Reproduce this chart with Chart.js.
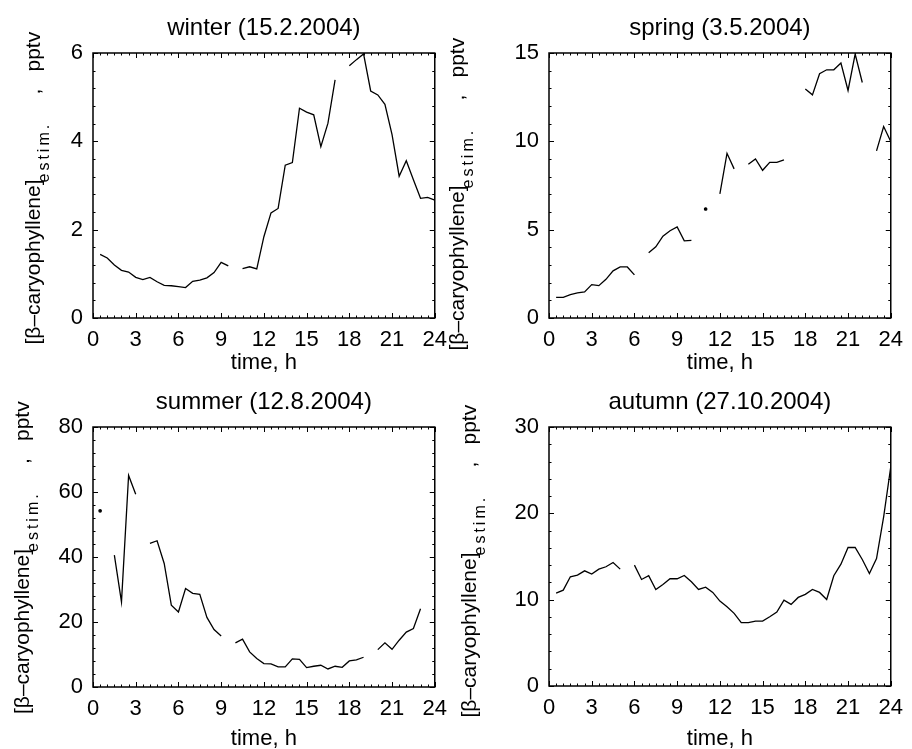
<!DOCTYPE html>
<html>
<head>
<meta charset="utf-8">
<script src="https://cdn.jsdelivr.net/npm/chart.js@4.4.0/dist/chart.umd.min.js"></script>
<style>
  html, body { margin: 0; padding: 0; background: #fff; }
  #wrap { position: relative; width: 912px; height: 749px; overflow: hidden; }
  .panel { position: absolute; }
</style>
</head>
<body>
<div id="wrap">
  <div class="panel" style="left:0px;top:0px"><canvas id="cWinter" width="456" height="374"></canvas></div>
  <div class="panel" style="left:436px;top:0px"><canvas id="cSpring" width="476" height="374"></canvas></div>
  <div class="panel" style="left:0px;top:374px"><canvas id="cSummer" width="456" height="375"></canvas></div>
  <div class="panel" style="left:436px;top:374px"><canvas id="cAutumn" width="476" height="375"></canvas></div>
</div>
<script>
// time of day, h (half-hour samples)
const hours = [0.5, 1, 1.5, 2, 2.5, 3, 3.5, 4, 4.5, 5, 5.5, 6,
               6.5, 7, 7.5, 8, 8.5, 9, 9.5, 10, 10.5, 11, 11.5, 12,
               12.5, 13, 13.5, 14, 14.5, 15, 15.5, 16, 16.5, 17, 17.5, 18,
               18.5, 19, 19.5, 20, 20.5, 21, 21.5, 22, 22.5, 23, 23.5, 24];

// estimated beta-caryophyllene, pptv (null = no data)
const winter = [1.44, 1.36, 1.20, 1.08, 1.04, 0.92, 0.87, 0.92, 0.82, 0.74, 0.73, 0.71,
                0.69, 0.83, 0.86, 0.91, 1.03, 1.26, 1.18, null, 1.12, 1.16, 1.11, 1.84,
                2.38, 2.48, 3.46, 3.52, 4.75, 4.66, 4.60, 3.88, 4.41, 5.39, null, 5.71,
                5.85, 5.98, 5.14, 5.05, 4.84, 4.15, 3.21, 3.56, 3.13, 2.71, 2.73, 2.67];

const spring = [1.17, 1.17, 1.32, 1.42, 1.48, 1.89, 1.83, 2.19, 2.67, 2.89, 2.89, 2.44,
                null, 3.69, 4.03, 4.63, 4.94, 5.16, 4.37, 4.39, null, 6.17, null, 7.02,
                9.32, 8.44, null, 8.70, 9.00, 8.36, 8.81, 8.81, 8.95, null, null, 12.96,
                12.63, 13.83, 14.05, 14.05, 14.43, 12.88, 14.94, 13.33, null, 9.46, 10.84, 9.99];

const summer = [54.2, null, 40.6, 26.2, 65.1, 59.3, null, 44.2, 45.0, 38.0, 25.2, 23.1,
                30.3, 28.8, 28.5, 21.4, 17.7, 15.7, null, 13.6, 14.7, 10.8, 8.74, 7.2,
                7.1, 6.17, 6.17, 8.64, 8.53, 5.96, 6.38, 6.68, 5.55, 6.38, 6.07, 8.02,
                8.33, 9.15, null, 11.5, 13.6, 11.6, 14.4, 16.9, 18.0, 24.1, null, null];

const autumn = [10.76, 11.1, 12.65, 12.84, 13.34, 12.96, 13.54, 13.81, 14.31, 13.54, null, 14.0,
                12.34, 12.77, 11.18, 11.76, 12.42, 12.42, 12.80, 12.07, 11.18, 11.45, 10.84, 9.83,
                9.18, 8.41, 7.33, 7.33, 7.52, 7.52, 8.02, 8.56, 9.95, 9.45, 10.26, 10.61,
                11.18, 10.84, 10.03, 12.77, 14.11, 16.04, 16.04, 14.65, 13.04, 14.77, 19.59, 25.38];

const xTicks = [0, 3, 6, 9, 12, 15, 18, 21, 24];

const FONT = '"Liberation Sans", Arial, Helvetica, sans-serif';

// box, inward ticks on all sides, titles and axis labels
const framePlugin = {
  id: 'frame',
  afterDraw(chart, args, o) {
    const { ctx, chartArea: a, scales: { x, y } } = chart;
    ctx.save();
    ctx.strokeStyle = '#000';
    ctx.lineWidth = 1;
    ctx.beginPath();
    for (let v = 0; v <= 24.001; v += 0.5) {
      const px = Math.round(x.getPixelForValue(v)) + 0.5;
      const len = xTicks.includes(v) ? 5 : 2.5;
      ctx.moveTo(px, a.bottom); ctx.lineTo(px, a.bottom - len);
      ctx.moveTo(px, a.top); ctx.lineTo(px, a.top + len);
    }
    for (let v = 0; v <= o.yMax + 1e-6; v += o.yMinor) {
      const py = Math.round(y.getPixelForValue(v)) + 0.5;
      const r = v / o.yStep;
      const len = Math.abs(r - Math.round(r)) < 1e-6 ? 5 : 2.5;
      ctx.moveTo(a.left, py); ctx.lineTo(a.left + len, py);
      ctx.moveTo(a.right, py); ctx.lineTo(a.right - len, py);
    }
    ctx.stroke();
    ctx.lineWidth = 1.5;
    ctx.strokeRect(a.left, a.top, a.right - a.left, a.bottom - a.top);

    ctx.fillStyle = '#000';
    const cx = (a.left + a.right) / 2;
    // title
    ctx.font = '24px ' + FONT;
    ctx.textAlign = 'center';
    ctx.textBaseline = 'alphabetic';
    ctx.fillText(o.title, cx, o.titleY);
    // x label
    ctx.font = '22px ' + FONT;
    ctx.textBaseline = 'middle';
    ctx.fillText('time, h', cx, o.xlabelY);

    // y label with subscript, rotated
    const mainF = '21px ' + FONT, subF = '16px ' + FONT;
    ctx.translate(o.ylabelX, (a.top + a.bottom) / 2 + o.ylabelShift);
    ctx.rotate(-Math.PI / 2);
    ctx.textAlign = 'left';
    ctx.textBaseline = 'alphabetic';
    const t0 = -157;
    ctx.font = mainF;
    ctx.fillText('[\u03B2\u2013caryophyllene]', t0, 0);
    ctx.font = subF;
    ctx.letterSpacing = '3px';
    ctx.fillText('estim.', t0 + 162, 9);
    ctx.letterSpacing = '0px';
    ctx.font = mainF;
    ctx.fillText(',', t0 + 250, 0);
    ctx.fillText('pptv', t0 + 273, 0);
    ctx.restore();
  }
};

function isolated(ctx) {
  const d = ctx.dataset.data, i = ctx.dataIndex;
  if (d[i].y === null) return 0;
  const prev = i > 0 ? d[i - 1].y : null;
  const next = i < d.length - 1 ? d[i + 1].y : null;
  return (prev === null && next === null) ? 1.2 : 0;
}

function makeChart(id, values, o) {
  const ctx = document.getElementById(id).getContext('2d');
  return new Chart(ctx, {
    type: 'line',
    data: {
      datasets: [{
        data: hours.map((h, i) => ({ x: h, y: values[i] })),
        borderColor: '#000',
        backgroundColor: '#000',
        borderWidth: 1.3,
        pointRadius: isolated,
        pointHoverRadius: 0,
        spanGaps: false,
        tension: 0,
      }],
    },
    options: {
      responsive: false,
      animation: false,
      events: [],
      layout: { autoPadding: false, padding: { left: 0, top: 53, right: o.padRight, bottom: 0 } },
      plugins: { legend: { display: false }, tooltip: { enabled: false }, frame: o },
      scales: {
        x: {
          type: 'linear', min: 0, max: 24,
          afterFit(s) { s.height = o.axisH; },
          grid: { display: false, drawTicks: false },
          border: { display: false },
          ticks: { stepSize: 3, maxRotation: 0, autoSkip: false, padding: 9, color: '#000',
                   font: { family: FONT, size: 22 } },
        },
        y: {
          min: 0, max: o.yMax,
          afterFit(s) { s.width = o.axisW; },
          grid: { display: false, drawTicks: false },
          border: { display: false },
          ticks: { stepSize: o.yStep, padding: 10, color: '#000',
                   font: { family: FONT, size: 22 } },
        },
      },
    },
    plugins: [framePlugin],
  });
}

makeChart('cWinter', winter, { title: 'winter (15.2.2004)', yMax: 6, yStep: 2, yMinor: 0.4,
  axisW: 93, axisH: 56, padRight: 16, titleY: 35, xlabelY: 363, ylabelX: 40, ylabelShift: 2 });
makeChart('cSpring', spring, { title: 'spring (3.5.2004)', yMax: 15, yStep: 5, yMinor: 1,
  axisW: 113, axisH: 56, padRight: 15, titleY: 35, xlabelY: 363, ylabelX: 28, ylabelShift: 8 });
makeChart('cSummer', summer, { title: 'summer (12.8.2004)', yMax: 80, yStep: 20, yMinor: 4,
  axisW: 93, axisH: 62, padRight: 16, titleY: 35, xlabelY: 365, ylabelX: 29, ylabelShift: 0 });
makeChart('cAutumn', autumn, { title: 'autumn (27.10.2004)', yMax: 30, yStep: 10, yMinor: 2,
  axisW: 113, axisH: 63, padRight: 15, titleY: 35, xlabelY: 365, ylabelX: 40, ylabelShift: 4 });
</script>
</body>
</html>
